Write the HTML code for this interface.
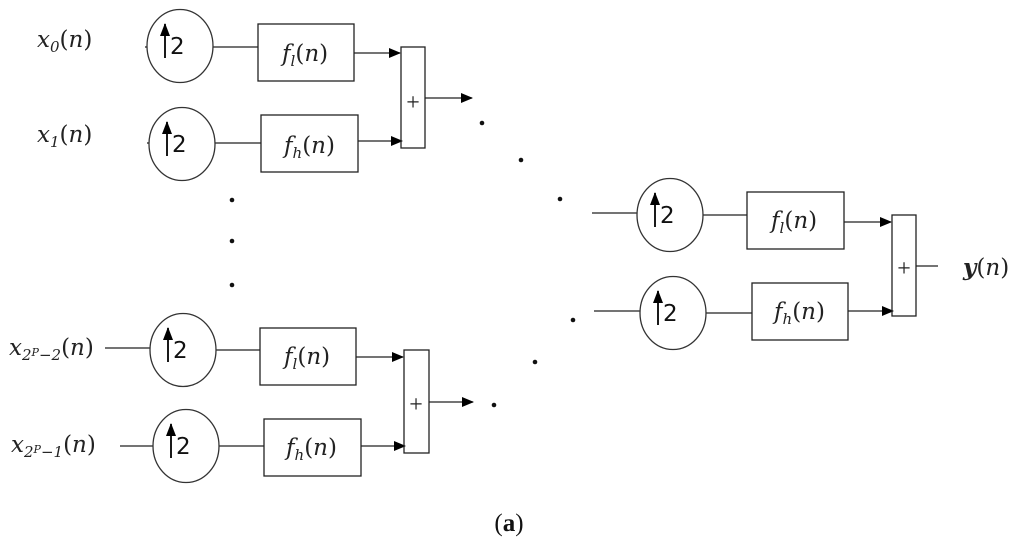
<!DOCTYPE html>
<html><head><meta charset="utf-8"><style>
html,body{margin:0;padding:0;background:#fff;}
svg{display:block;}
.t{font-family:"DejaVu Serif","Liberation Serif",serif;font-size:23px;fill:#222;}
.i{font-style:italic;}
.s{font-family:"DejaVu Serif","Liberation Serif",serif;font-style:italic;font-size:15px;fill:#222;}
.two{font-family:"DejaVu Sans","Liberation Sans",sans-serif;font-size:23px;fill:#111;}
</style></head><body>
<svg width="1024" height="542" viewBox="0 0 1024 542" xmlns="http://www.w3.org/2000/svg">
<defs>
<marker id="ah" markerWidth="12" markerHeight="10" refX="11" refY="5" orient="auto" markerUnits="userSpaceOnUse"><path d="M0,0 L12,5 L0,10 Z" fill="#000"/></marker>
<g id="up2">
<ellipse cx="0" cy="0" rx="33" ry="36.5" fill="none" stroke="#333" stroke-width="1.3"/>
<line x1="-15" y1="-22" x2="-15" y2="12" stroke="#000" stroke-width="1.8"/>
<path d="M-20,-10 L-15,-23 L-10,-10 Z" fill="#000"/>
<text class="two" x="-10" y="8">2</text>
</g>
</defs>
<g stroke="#222" stroke-width="1.3" fill="none">
<line x1="145" y1="47" x2="147" y2="47"/>
<line x1="213" y1="47" x2="258" y2="47"/>
<rect x="258" y="24" width="96" height="57"/>
<line x1="354" y1="53" x2="400" y2="53" marker-end="url(#ah)"/>
<line x1="147" y1="143" x2="149" y2="143"/>
<line x1="215" y1="143" x2="261" y2="143"/>
<rect x="261" y="115" width="97" height="57"/>
<line x1="358" y1="141" x2="402" y2="141" marker-end="url(#ah)"/>
<rect x="401" y="47" width="24" height="101"/>
<line x1="425" y1="98" x2="472" y2="98" marker-end="url(#ah)"/>
<line x1="105" y1="348" x2="150" y2="348"/>
<line x1="216" y1="350" x2="260" y2="350"/>
<rect x="260" y="328" width="96" height="57"/>
<line x1="356" y1="357" x2="403" y2="357" marker-end="url(#ah)"/>
<line x1="120" y1="446" x2="153" y2="446"/>
<line x1="219" y1="446" x2="264" y2="446"/>
<rect x="264" y="419" width="97" height="57"/>
<line x1="361" y1="446" x2="405" y2="446" marker-end="url(#ah)"/>
<rect x="404" y="350" width="25" height="103"/>
<line x1="429" y1="402" x2="473" y2="402" marker-end="url(#ah)"/>
<line x1="592" y1="213" x2="637" y2="213"/>
<line x1="703" y1="215" x2="747" y2="215"/>
<rect x="747" y="192" width="97" height="57"/>
<line x1="844" y1="222" x2="891" y2="222" marker-end="url(#ah)"/>
<line x1="594" y1="311" x2="640" y2="311"/>
<line x1="706" y1="313" x2="752" y2="313"/>
<rect x="752" y="283" width="96" height="57"/>
<line x1="848" y1="311" x2="893" y2="311" marker-end="url(#ah)"/>
<rect x="892" y="215" width="24" height="101"/>
<line x1="916" y1="266" x2="938" y2="266"/>
</g>
<use href="#up2" x="180" y="46"/>
<use href="#up2" x="182" y="144"/>
<use href="#up2" x="183" y="350"/>
<use href="#up2" x="186" y="446"/>
<use href="#up2" x="670" y="215"/>
<use href="#up2" x="673" y="313"/>
<g font-family="Liberation Serif,serif" font-size="24" fill="#222" text-anchor="middle">
<text x="413" y="110">+</text>
<text x="416" y="412">+</text>
<text x="904" y="276">+</text>
</g>
<text class="t" x="282" y="61"><tspan class="i">f</tspan><tspan class="s" dy="5">l</tspan><tspan dy="-5">(</tspan><tspan class="i">n</tspan>)</text>
<text class="t" x="284" y="153"><tspan class="i">f</tspan><tspan class="s" dy="5">h</tspan><tspan dy="-5">(</tspan><tspan class="i">n</tspan>)</text>
<text class="t" x="284" y="364"><tspan class="i">f</tspan><tspan class="s" dy="5">l</tspan><tspan dy="-5">(</tspan><tspan class="i">n</tspan>)</text>
<text class="t" x="286" y="455"><tspan class="i">f</tspan><tspan class="s" dy="5">h</tspan><tspan dy="-5">(</tspan><tspan class="i">n</tspan>)</text>
<text class="t" x="771" y="228"><tspan class="i">f</tspan><tspan class="s" dy="5">l</tspan><tspan dy="-5">(</tspan><tspan class="i">n</tspan>)</text>
<text class="t" x="774" y="319"><tspan class="i">f</tspan><tspan class="s" dy="5">h</tspan><tspan dy="-5">(</tspan><tspan class="i">n</tspan>)</text>
<text class="t" x="37" y="47"><tspan class="i">x</tspan><tspan class="s" dy="5">0</tspan><tspan dy="-5">(</tspan><tspan class="i">n</tspan>)</text>
<text class="t" x="37" y="142"><tspan class="i">x</tspan><tspan class="s" dy="5">1</tspan><tspan dy="-5">(</tspan><tspan class="i">n</tspan>)</text>
<text class="t" x="9" y="355"><tspan class="i">x</tspan><tspan class="s" dy="5">2</tspan><tspan class="s" style="font-size:11px" dy="-4">P</tspan><tspan class="s" dy="4">−2</tspan><tspan dy="-5">(</tspan><tspan class="i">n</tspan>)</text>
<text class="t" x="11" y="452"><tspan class="i">x</tspan><tspan class="s" dy="5">2</tspan><tspan class="s" style="font-size:11px" dy="-4">P</tspan><tspan class="s" dy="4">−1</tspan><tspan dy="-5">(</tspan><tspan class="i">n</tspan>)</text>
<text class="t" x="963" y="275"><tspan font-weight="bold" font-style="italic">y</tspan>(<tspan class="i">n</tspan>)</text>
<g fill="#111">
<circle cx="232" cy="200" r="2.3"/><circle cx="232" cy="241" r="2.3"/><circle cx="232" cy="285" r="2.3"/>
<circle cx="482" cy="123" r="2.3"/><circle cx="521" cy="160" r="2.3"/><circle cx="560" cy="199" r="2.3"/>
<circle cx="573" cy="320" r="2.3"/><circle cx="535" cy="362" r="2.3"/><circle cx="494" cy="405" r="2.3"/>
</g>
<text x="509" y="531" text-anchor="middle" font-family="Liberation Serif,serif" font-size="25" fill="#111">(<tspan font-weight="bold">a</tspan>)</text>
</svg>
</body></html>
